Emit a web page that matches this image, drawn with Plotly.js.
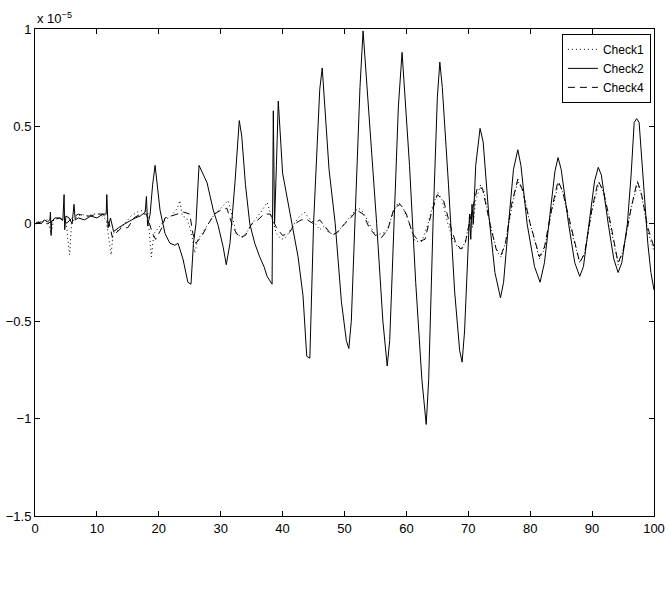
<!DOCTYPE html>
<html>
<head>
<meta charset="utf-8">
<script src="https://cdn.plot.ly/plotly-3.0.1.min.js"></script>
<style>html,body{margin:0;padding:0;background:#fff;}#chart{width:670px;height:596px;}</style>
</head>
<body>
<div id="chart"></div>
<script>
// Values in units of 1e-5
const seriesNames = ["Check1", "Check2", "Check4"];

const check2X = [0,0.5,1,1.5,2,2.4,2.5,2.6,2.7,3.2,4.0,4.5,4.7,4.8,5.0,5.5,6.0,6.3,6.5,7,8,9,10,11,11.5,11.6,11.8,12.2,12.7,13.5,14.5,15.5,16.2,17,17.8,18.0,18.2,18.6,19.0,19.4,19.8,20.2,21,21.8,22.6,23.1,23.9,24.7,25.2,25.6,26.0,26.5,27.8,28.8,29.6,30.4,30.9,31.5,32.3,32.8,33.0,33.4,34.0,34.7,35.5,36.3,37.0,37.5,38.3,38.5,38.7,39.0,39.3,40.0,41.5,42.5,43.3,43.9,44.4,45.0,46.0,46.4,47.5,48.5,49.5,50.3,50.7,51.1,51.7,52.5,53.0,54.0,55.2,56.2,56.9,57.3,58.0,58.7,59.3,59.7,60.5,61.5,62.5,63.2,63.6,64.3,65.0,65.4,65.8,66.8,67.8,68.6,69.0,69.4,69.9,70.2,70.4,70.6,70.8,71.2,71.9,72.4,73.3,74.3,75.2,75.7,76.5,77.3,78.0,78.5,79.5,80.7,81.6,82.3,83.2,84.0,84.5,85.0,86.2,87.2,88.0,88.6,89.5,90.4,91.0,91.5,92.6,93.5,94.2,94.8,95.7,96.3,96.8,97.2,97.6,98.3,99.0,99.5,100];
const check2Y = [0.0,0.01,0.0,0.02,0.01,0.02,0.06,-0.06,0.01,0.03,0.03,0.02,0.15,-0.03,0.04,0.03,0.0,0.10,0.02,0.03,0.02,0.04,0.03,0.05,0.05,0.15,-0.02,0.03,-0.04,-0.02,0.0,0.02,0.03,0.04,0.06,0.14,-0.01,0.05,0.20,0.30,0.20,0.07,-0.05,-0.10,-0.11,-0.10,-0.18,-0.30,-0.31,-0.10,0.0,0.30,0.21,0.07,-0.01,-0.12,-0.21,-0.10,0.21,0.45,0.53,0.45,0.20,0.0,-0.10,-0.17,-0.22,-0.27,-0.31,0.58,0.0,0.30,0.63,0.26,0.0,-0.17,-0.37,-0.68,-0.69,0.0,0.69,0.80,0.28,0.0,-0.40,-0.60,-0.64,-0.50,0.02,0.70,0.99,0.55,0.0,-0.50,-0.73,-0.60,0.0,0.60,0.88,0.70,0.30,-0.30,-0.80,-1.03,-0.80,0.0,0.65,0.83,0.70,0.20,-0.35,-0.65,-0.71,-0.55,-0.15,0.05,-0.08,0.10,0.0,0.30,0.49,0.42,0.05,-0.25,-0.38,-0.30,0.0,0.28,0.38,0.30,0.0,-0.22,-0.30,-0.20,0.05,0.27,0.34,0.28,0.0,-0.20,-0.27,-0.22,0.0,0.22,0.29,0.25,0.0,-0.18,-0.25,-0.20,0.0,0.25,0.52,0.54,0.52,0.20,-0.10,-0.25,-0.34];

const check4X = [0,1,2,3,4,5,6,7,8,9,10,11,12,12.5,13,14,15,16,17,18,19,19.5,20.5,21,22,23,24,25,25.5,26,27,28,29,30,31,32,33,34,35,36,37,38,39,40,41,42,43,44,45,46,47,48,49,50,51,52,53,54,55,56,57,58,59,60,61,62,63,64,65,66,67,68,68.8,69.5,70.5,71.5,72.3,73.5,74.5,75.3,76,77,78,78.7,80,81.5,82.3,83.5,84.5,85.2,86.5,88,88.8,90,91,91.8,93,94.2,95,96.3,97.3,98,99,100];
const check4Y = [0.0,0.01,0.0,0.02,0.03,0.0,0.03,0.05,0.04,0.04,0.05,0.05,0.0,-0.07,-0.05,-0.02,-0.02,0.03,0.05,0.05,-0.05,-0.08,-0.02,0.03,0.04,0.05,0.06,0.05,-0.05,-0.10,-0.06,0.0,0.05,0.07,0.08,-0.02,-0.07,-0.06,0.0,0.02,0.05,0.05,-0.02,-0.06,-0.05,0.0,0.02,0.02,0.0,0.02,-0.02,-0.06,-0.04,0.0,0.03,0.07,0.05,-0.02,-0.06,-0.07,-0.03,0.08,0.10,0.05,-0.05,-0.09,-0.08,0.05,0.15,0.12,0.0,-0.10,-0.13,-0.10,0.05,0.19,0.18,0.0,-0.13,-0.16,-0.10,0.10,0.23,0.18,0.0,-0.17,-0.12,0.08,0.22,0.17,0.0,-0.20,-0.15,0.08,0.22,0.17,0.0,-0.20,-0.14,0.08,0.22,0.15,-0.02,-0.12];

const check1X = [0,1,2,2.6,3,4,5,5.3,5.6,5.9,6.5,7.5,8.5,9.5,10.5,11.5,12.0,12.3,12.6,13.5,14.5,15.5,16.5,17.5,18.2,18.6,18.8,19.2,20,21,22,23,23.4,23.8,24.5,25.3,25.8,26.3,27,28,29,30,31.2,31.8,32.5,33.5,34.5,35.5,36.5,37.5,38.2,39,39.8,40.5,41.5,42.5,43.5,44.5,45.3,46,46.8,47.5,48.5,49.5,50.5,51.5,52.3,53,54,55,56,56.8,58,58.7,59.5,60.5,61.4,62.5,63.5,64.3,65.1,65.8,66.7,67.5,68.3,69.0,69.6,70.4,70.7,71.2,72.0,72.5,73.5,74.6,75.3,76.0,77.0,78.0,78.8,80,81.5,82.3,83.5,84.6,85.3,86.5,88,88.8,90,91.1,91.9,93,94.2,95,96.3,97.4,98.1,99,100];
const check1Y = [0.0,0.01,0.02,-0.05,0.02,0.03,0.02,-0.08,-0.16,0.0,0.03,0.05,0.04,0.05,0.05,0.02,-0.10,-0.16,-0.05,-0.03,0.0,0.04,0.06,0.07,0.06,-0.12,-0.17,-0.05,-0.02,0.02,0.04,0.08,0.12,0.04,0.03,-0.05,-0.15,-0.08,-0.05,0.0,0.05,0.08,0.12,0.05,-0.05,-0.07,-0.03,0.02,0.06,0.11,0.04,-0.05,-0.08,-0.07,-0.02,0.03,0.06,0.02,0.0,-0.03,-0.01,-0.05,-0.05,-0.02,0.02,0.06,0.08,0.06,0.0,-0.06,-0.05,-0.04,0.07,0.11,0.08,0.0,-0.09,-0.09,0.0,0.10,0.16,0.12,0.0,-0.08,-0.12,-0.13,-0.08,0.05,-0.02,0.12,0.20,0.17,0.0,-0.14,-0.17,-0.10,0.08,0.22,0.17,0.0,-0.18,-0.13,0.07,0.21,0.16,-0.02,-0.20,-0.15,0.07,0.21,0.16,-0.02,-0.21,-0.14,0.08,0.21,0.13,-0.04,-0.14];

const xTicks = [0,10,20,30,40,50,60,70,80,90,100];
const yTicks = [-1.5,-1,-0.5,0,0.5,1];

const font = {family: "Liberation Sans, Arial, sans-serif", size: 13, color: "#000"};
const legendFont = {family: "Liberation Sans, Arial, sans-serif", size: 12, color: "#000"};
const lineBase = {color: "#000", width: 1};

const traces = [
  {x: check1X, y: check1Y, name: seriesNames[0], mode: "lines", line: Object.assign({}, lineBase, {dash: "1px,3px"})},
  {x: check2X, y: check2Y, name: seriesNames[1], mode: "lines", line: Object.assign({}, lineBase, {dash: "solid"})},
  {x: check4X, y: check4Y, name: seriesNames[2], mode: "lines", line: Object.assign({}, lineBase, {dash: "7px,5px"})}
];

const axisCommon = {
  showgrid: false, zeroline: false, showline: true, linecolor: "#000", linewidth: 1,
  mirror: "ticks", ticks: "inside", ticklen: 5, tickcolor: "#000", tickwidth: 1,
  tickfont: font
};

const layout = {
  width: 670, height: 596,
  margin: {l: 35, r: 16, t: 29, b: 80},
  paper_bgcolor: "#fff", plot_bgcolor: "#fff",
  font: font,
  showlegend: true,
  legend: {x: 0.995, y: 0.99, xanchor: "right", yanchor: "top", bordercolor: "#000", borderwidth: 1,
           bgcolor: "#fff", font: legendFont, tracegroupgap: 0, itemwidth: 30},
  xaxis: Object.assign({}, axisCommon, {range: [0, 100], tickvals: xTicks, ticktext: xTicks.map(String)}),
  yaxis: Object.assign({}, axisCommon, {range: [-1.5, 1], tickvals: yTicks, ticktext: yTicks.map(v => (v < 0 ? "\u2212" : "") + String(Math.abs(v)))}),
  annotations: [{
    xref: "paper", yref: "paper", x: 0, y: 1, xanchor: "left", yanchor: "bottom",
    text: "x 10<sup>\u22125</sup>", showarrow: false, font: font, yshift: 1
  }]
};

Plotly.newPlot("chart", traces, layout, {displayModeBar: false, staticPlot: true});
</script>
</body>
</html>
